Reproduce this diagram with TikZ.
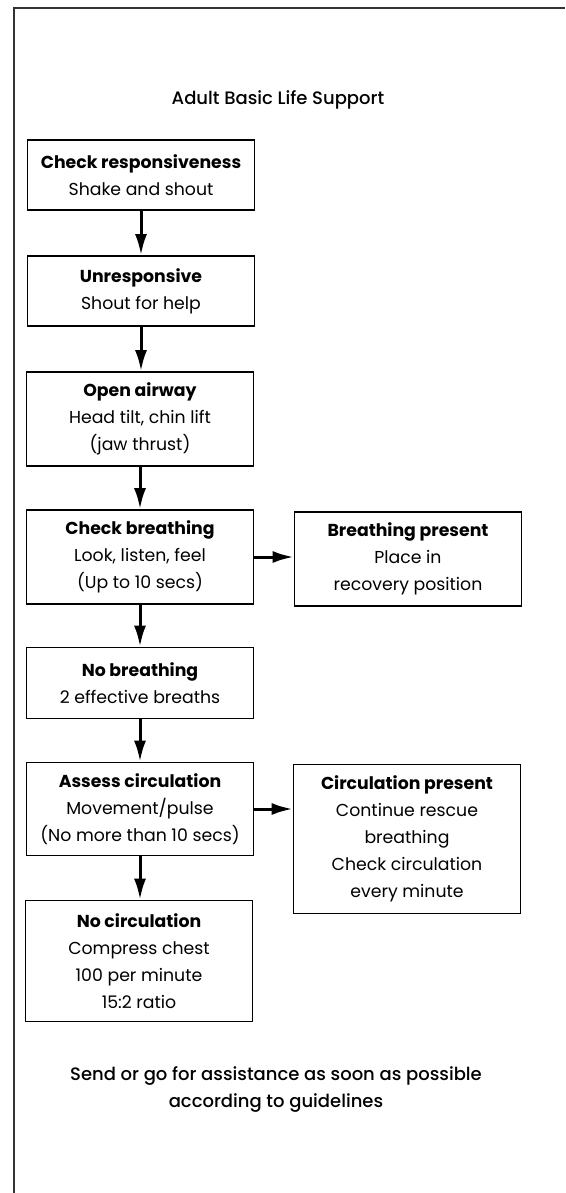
\documentclass[tikz,border=0pt]{standalone}
\usepackage{fontspec}
\setmainfont{Poppins}
\newfontfamily\medfont{Poppins Medium}
\usetikzlibrary{arrows.meta,positioning}
\begin{document}
\begin{tikzpicture}[x=1pt,y=-1pt,>={Latex[length=21pt,width=12pt]},
    box/.style={draw,line width=1.6pt,align=center,minimum width=227pt,inner sep=0pt,font=\fontsize{17.3}{27}\selectfont},
    arr/.style={->,line width=3pt}]
    \useasboundingbox (0,0) rectangle (565,1193);
    \draw[line width=1.6pt,black!80] (14,1193) -- (14,8) -- (565,8);
    \node[font=\medfont\fontsize{18}{27}\selectfont] (title) at (278,100) {Adult Basic Life Support};
    \node[box,minimum height=70pt] (resp) at (141,175) {\textbf{Check responsiveness}\\Shake and shout};
    \node[box,minimum height=70pt] (unresp) at (141,291) {\textbf{Unresponsive}\\Shout for help};
    \node[box,minimum height=94pt] (airway) at (140,419) {\textbf{Open airway}\\Head tilt, chin lift\\(jaw thrust)};
    \node[box,minimum height=94pt] (breath) at (140,557) {\textbf{Check breathing}\\Look, listen, feel\\(Up to 10 secs)};
    \node[box,minimum height=94pt] (bpresent) at (408,559) {\textbf{Breathing present}\\Place in\\recovery position};
    \node[box,minimum height=71pt] (nobreath) at (140,683) {\textbf{No breathing}\\2 effective breaths};
    \node[box,minimum height=93pt] (circ) at (140,809) {\textbf{Assess circulation}\\Movement/pulse\\(No more than 10 secs)};
    \node[box,minimum height=149pt] (cpresent) at (407,839) {\textbf{Circulation present}\\Continue rescue\\breathing\\Check circulation\\every minute};
    \node[box,minimum height=121pt] (nocirc) at (139,961) {\textbf{No circulation}\\Compress chest\\100 per minute\\15:2 ratio};
    \node[align=center,font=\medfont\fontsize{18}{27}\selectfont] (note) at (276,1089) {Send or go for assistance as soon as possible\\according to guidelines};
    \foreach \a/\b in {resp/unresp,unresp/airway,airway/breath,breath/nobreath,nobreath/circ,circ/nocirc}
        {\draw[arr] (\a.south) -- (\a.south |- \b.north);
        }
    \draw[arr] (breath.east) -- (breath.east -| bpresent.west);
    \draw[arr] (circ.east) -- (circ.east -| cpresent.west);
\end{tikzpicture}
\end{document}
